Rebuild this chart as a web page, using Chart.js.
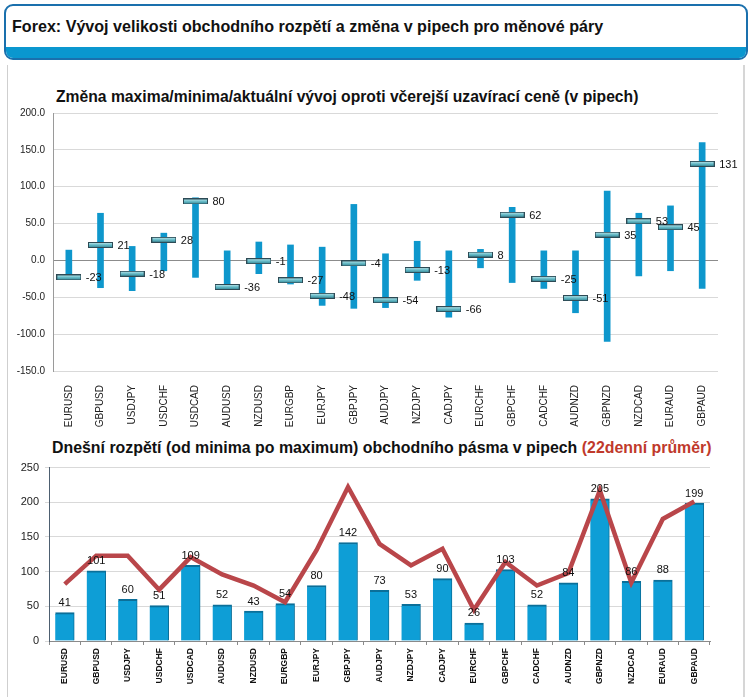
<!DOCTYPE html>
<html>
<head>
<meta charset="utf-8">
<script src="https://cdn.jsdelivr.net/npm/chart.js@4"></script>
<style>
  body { margin: 0; width: 752px; height: 697px; background: #fff; position: relative; overflow: hidden; font-family: "Liberation Sans", Arial, sans-serif; }
  #header { position: absolute; left: 4px; top: 4px; width: 740px; height: 52px; border: 2px solid #1a70ad; border-radius: 9px; overflow: hidden; background: #fff; }
  #header .band { position: absolute; left: 0; right: 0; bottom: 0; height: 11px; background: #0a97cf; }
  #header .txt { position: absolute; left: 6px; top: 11px; font-weight: bold; font-size: 16.1px; color: #111; }
  #panel { position: absolute; left: 7px; top: 65px; width: 735px; height: 640px; border-left: 1px solid #cfcfcf; border-right: 2px solid #d6d6d6; }
  .title { position: absolute; font-weight: bold; color: #111; white-space: nowrap; }
  #t1 { left: 56px; top: 88px; font-size: 15.7px; }
  #t2 { left: 52px; top: 439px; font-size: 15.9px; }
  #t2 span { color: #c0392b; }
  canvas { position: absolute; }
  #c1 { left: 0; top: 80px; }
  #c2 { left: 0; top: 455px; }
</style>
</head>
<body>
<div id="header"><div class="txt">Forex: Vývoj velikosti obchodního rozpětí a změna v pipech pro měnové páry</div><div class="band"></div></div>
<div id="panel"></div>
<div class="title" id="t1">Změna maxima/minima/aktuální vývoj oproti včerejší uzavírací ceně (v pipech)</div>
<div class="title" id="t2">Dnešní rozpětí (od minima po maximum) obchodního pásma v pipech <span>(22denní průměr)</span></div>
<canvas id="c1" width="752" height="352"></canvas>
<canvas id="c2" width="752" height="238"></canvas>
<script>
const pairs = ['EURUSD','GBPUSD','USDJPY','USDCHF','USDCAD','AUDUSD','NZDUSD','EURGBP','EURJPY','GBPJPY','AUDJPY','NZDJPY','CADJPY','EURCHF','GBPCHF','CADCHF','AUDNZD','GBPNZD','NZDCAD','EURAUD','GBPAUD'];
// top chart: today's max / min / current vs yesterday's close
const dayMax = [14, 64, 19, 37, 85, 13, 25, 21, 18, 76, 9, 26, 13, 15, 72, 13, 13, 94, 64, 74, 160];
const dayMin = [-26, -37, -41, -14, -23, -38, -18, -32, -61, -65, -64, -27, -77, -10, -30, -38, -71, -110, -21, -14, -38];
const current = [-23, 21, -18, 28, 80, -36, -1, -27, -48, -4, -54, -13, -66, 8, 62, -25, -51, 35, 53, 45, 131];
const changeTicks = [-150, -100, -50, 0, 50, 100, 150, 200];
// bottom chart: today's range and 22-day average
const todayRange = [41, 101, 60, 51, 109, 52, 43, 54, 80, 142, 73, 53, 90, 26, 103, 52, 84, 205, 86, 88, 199];
const avg22 = [82, 123, 123, 74, 121, 96, 80, 56, 131, 222, 140, 109, 133, 45, 114, 80, 98, 217, 84, 176, 201];

const FONT = '"Liberation Sans", Arial, sans-serif';

// marker image for the current value
const marker = document.createElement('canvas');
marker.width = 25; marker.height = 6;
const mc = marker.getContext('2d');
const g = mc.createLinearGradient(0, 0, 0, 6);
g.addColorStop(0, '#d8f0f2');
g.addColorStop(0.45, '#6cc0cc');
g.addColorStop(1, '#2b7f8f');
mc.fillStyle = g;
mc.fillRect(0.5, 0.5, 24, 5);
mc.strokeStyle = '#2d4a55';
mc.lineWidth = 1;
mc.strokeRect(0.5, 0.5, 24, 5);

const valueLabels = {
  id: 'valueLabels',
  afterDatasetsDraw(chart, args, opts) {
    const ctx = chart.ctx;
    const meta = chart.getDatasetMeta(opts.dataset);
    const vals = chart.data.datasets[opts.dataset].data;
    ctx.save();
    ctx.font = '11px ' + FONT;
    ctx.fillStyle = '#111';
    meta.data.forEach((el, i) => {
      if (opts.side === 'right') {
        ctx.textAlign = 'left';
        ctx.textBaseline = 'middle';
        ctx.fillText(vals[i], el.x + 17, el.y + 1);
      } else {
        ctx.textAlign = 'center';
        ctx.textBaseline = 'bottom';
        ctx.fillText(vals[i], el.x, el.y - 4);
      }
    });
    ctx.restore();
  }
};

new Chart(document.getElementById('c1'), {
  type: 'bar',
  data: {
    labels: pairs,
    datasets: [{
      label: 'min/max',
      data: pairs.map((p, i) => [dayMin[i], dayMax[i]]),
      backgroundColor: '#0e97cc',
      barThickness: 6,
      borderSkipped: false,
      order: 2
    }, {
      type: 'line',
      label: 'aktuální',
      data: current,
      showLine: false,
      pointStyle: marker,
      pointRadius: 6,
      order: 1
    }]
  },
  options: {
    responsive: false,
    animation: false,
    layout: { padding: { left: 4, right: 34, top: 33, bottom: 0 } },
    plugins: {
      legend: { display: false },
      tooltip: { enabled: false },
      valueLabels: { dataset: 1, side: 'right' }
    },
    scales: {
      x: {
        grid: { display: false },
        border: { display: false },
        ticks: { maxRotation: 90, minRotation: 90, autoSkip: false, color: '#222', font: { family: FONT, size: 10 }, padding: 6 },
        afterFit(axis) { axis.height = 61; }
      },
      y: {
        min: -150, max: 200,
        afterBuildTicks(axis) { axis.ticks = changeTicks.map(v => ({ value: v })); },
        grid: {
          color: ctx => ctx.tick && ctx.tick.value === 0 ? '#8c8c8c' : '#d9d9d9',
          drawTicks: false
        },
        border: { color: '#9a9a9a' },
        ticks: { color: '#222', font: { family: FONT, size: 10 }, padding: 8, callback: v => v.toFixed(1) },
        afterFit(axis) { axis.width = 49; }
      }
    }
  },
  plugins: [valueLabels]
});

new Chart(document.getElementById('c2'), {
  type: 'bar',
  data: {
    labels: pairs,
    datasets: [{
      label: 'Dnešní rozpětí',
      data: todayRange,
      backgroundColor: '#0e9ed6',
      borderColor: '#0b6f99',
      borderWidth: { left: 0, right: 1, top: 2, bottom: 0 },
      borderSkipped: 'bottom',
      barThickness: 19,
      order: 2
    }, {
      type: 'line',
      label: '22denní průměr',
      data: avg22,
      borderColor: '#b9464a',
      borderWidth: 4.5,
      pointRadius: 0,
      tension: 0,
      order: 1
    }]
  },
  options: {
    responsive: false,
    animation: false,
    layout: { padding: { left: 4, right: 42, top: 12, bottom: 0 } },
    plugins: {
      legend: { display: false },
      tooltip: { enabled: false },
      valueLabels: { dataset: 0, side: 'top' }
    },
    scales: {
      x: {
        grid: { display: true, offset: true, drawOnChartArea: false, tickLength: 4, color: '#8a8a8a' },
        border: { color: '#8a8a8a' },
        ticks: { maxRotation: 90, minRotation: 90, autoSkip: false, color: '#111', font: { family: FONT, size: 8.5, weight: 'bold' }, padding: 3 },
        afterFit(axis) { axis.height = 52; }
      },
      y: {
        min: 0, max: 250,
        ticks: { stepSize: 50, color: '#222', font: { family: FONT, size: 11 }, padding: 6 },
        grid: { color: '#d9d9d9', drawTicks: true, tickLength: 4 },
        border: { color: '#4d5f70' },
        afterFit(axis) { axis.width = 45; }
      }
    }
  },
  plugins: [valueLabels]
});
</script>
</body>
</html>
